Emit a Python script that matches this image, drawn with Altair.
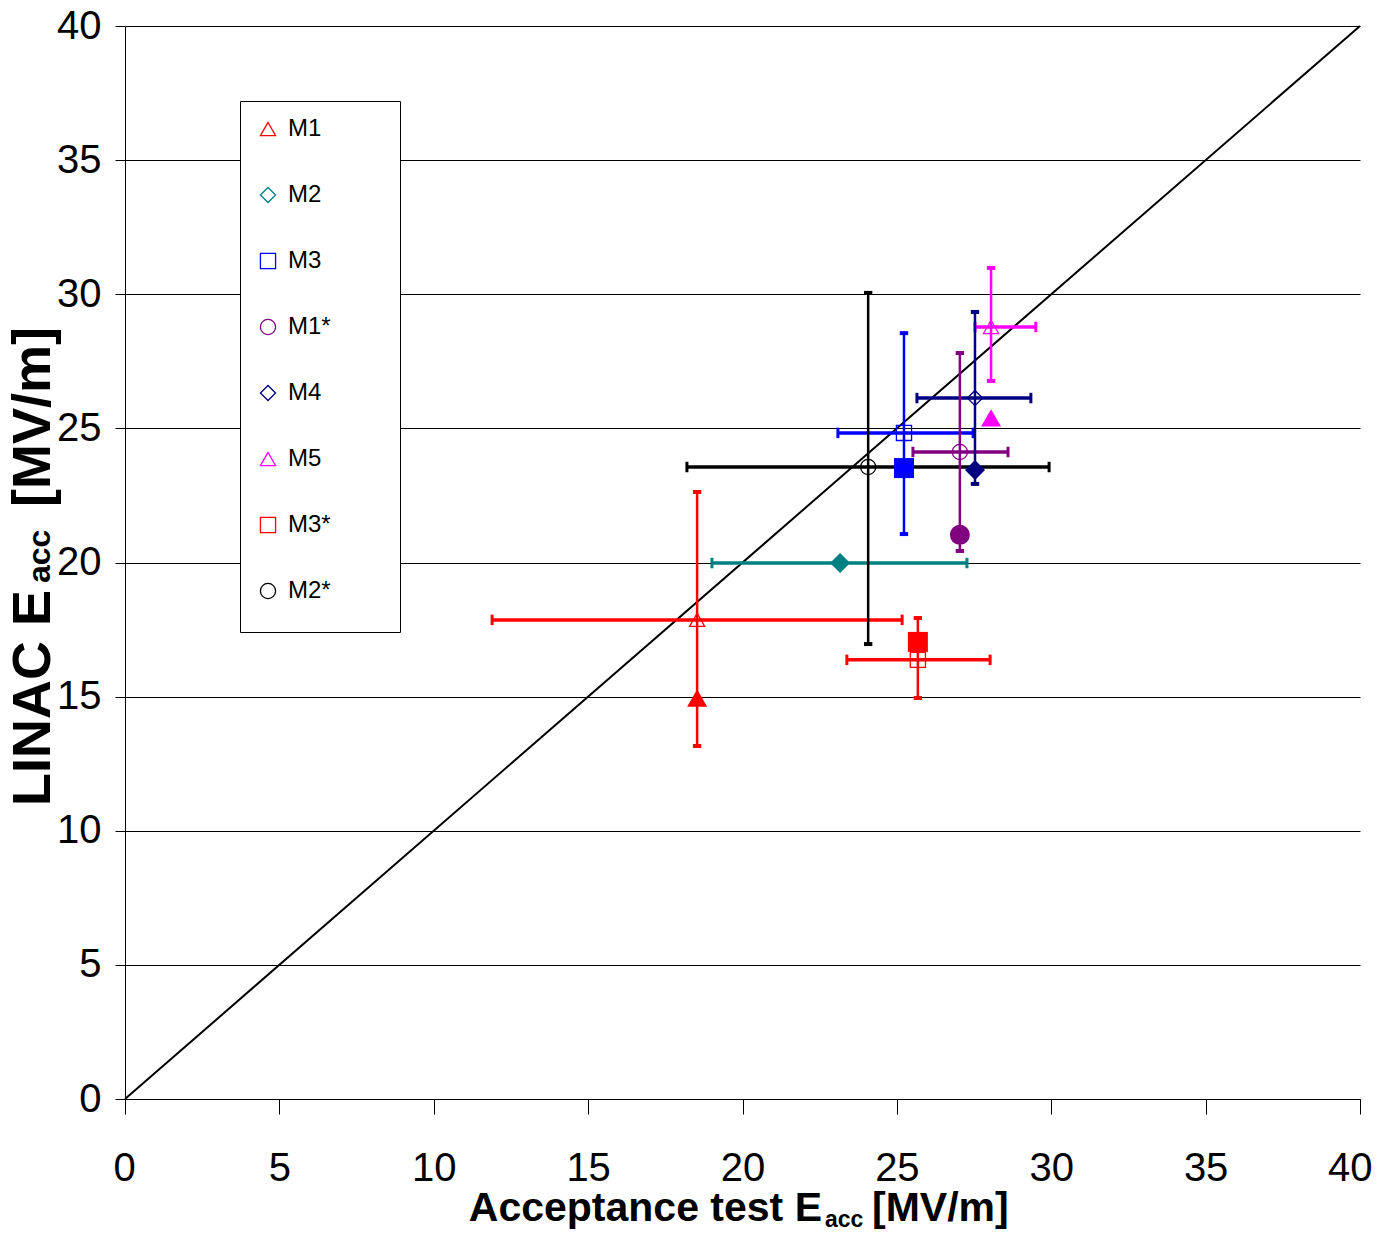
import altair as alt
import pandas as pd

# ---- data ----
series = ["M1", "M2", "M3", "M1*", "M4", "M5", "M3*", "M2*"]
colors = ["#FF0000", "#008080", "#0000FF", "#800080", "#000080", "#FF00FF", "#FF0000", "#000000"]
shapes = ["triangle-up", "diamond", "square", "circle", "diamond", "triangle-up", "square", "circle"]
accept_x = [18.53, 23.16, 25.23, 27.04, 27.53, 28.05, 25.68, 24.07]
linac_y = [17.86, 19.98, 24.83, 24.12, 26.13, 28.78, 16.37, 23.56]
x_low = [11.89, 19.01, 23.09, 25.52, 25.65, 27.53, 23.38, 18.20]
x_high = [25.17, 27.27, 27.47, 28.60, 29.34, 29.50, 28.02, 29.93]
y_low = [13.16, None, 21.06, 20.43, 22.93, 26.77, 14.95, 16.96]
y_high = [22.63, None, 28.55, 27.81, 29.34, 30.98, 17.93, 30.05]
filled_y = [14.95, 19.98, 23.52, 21.03, 23.45, 25.39, 17.04, None]
diag = [0, 40]
ticks = [0, 5, 10, 15, 20, 25, 30, 35, 40]
x_title = ["Acceptance test E", "acc", "[MV/m]"]
y_title = ["LINAC E", "acc", "[MV/m]"]

SANS = "Liberation Sans, Arial, DejaVu Sans, sans-serif"

df = pd.DataFrame({
    "series": series, "hex": colors, "shape": shapes,
    "x": accept_x, "y": linac_y, "xlo": x_low, "xhi": x_high,
    "ylo": y_low, "yhi": y_high, "fy": filled_y,
})
diag_df = pd.DataFrame({"a": diag, "b": diag})

xscale = alt.Scale(domain=[0, 40], nice=False, zero=False)
yscale = alt.Scale(domain=[0, 40], nice=False, zero=False)
xaxis = alt.Axis(values=ticks, title=None, grid=False, tickSize=15, labelPadding=34,
                 labelFont=SANS, labelFontSize=40, labelAngle=0,
                 labelFlush=True, labelFlushOffset=12)
yaxis = alt.Axis(values=ticks, title=None, grid=True, tickSize=10, labelPadding=14,
                 labelFont=SANS, labelFontSize=40)


def X(f):
    return alt.X(f"{f}:Q", scale=xscale, axis=xaxis)


def Y(f):
    return alt.Y(f"{f}:Q", scale=yscale, axis=yaxis)


hexcol = alt.Color("hex:N", scale=None)

diag_line = alt.Chart(diag_df).mark_line(color="black", strokeWidth=2).encode(
    x=X("a"), y=Y("b"))

base = alt.Chart(df)

hbar = base.mark_rule(strokeWidth=3.5).encode(x=X("xlo"), x2="xhi", y=Y("y"), color=hexcol)
hcap_lo = base.mark_point(shape="M0,-1L0,1", size=110, strokeWidth=3, filled=False, opacity=1).encode(
    x=X("xlo"), y=Y("y"), color=hexcol)
hcap_hi = base.mark_point(shape="M0,-1L0,1", size=110, strokeWidth=3, filled=False, opacity=1).encode(
    x=X("xhi"), y=Y("y"), color=hexcol)

vbase = base.transform_filter("isValid(datum.ylo)")
vbar = vbase.mark_rule(strokeWidth=2.5).encode(x=X("x"), y=Y("ylo"), y2="yhi", color=hexcol)
vcap_lo = vbase.mark_point(shape="M-1,0L1,0", size=70, strokeWidth=4, filled=False, opacity=1).encode(
    x=X("x"), y=Y("ylo"), color=hexcol)
vcap_hi = vbase.mark_point(shape="M-1,0L1,0", size=70, strokeWidth=4, filled=False, opacity=1).encode(
    x=X("x"), y=Y("yhi"), color=hexcol)

filled = base.transform_filter("isValid(datum.fy)").mark_point(
    filled=True, size=400, opacity=1).encode(
    x=X("x"), y=Y("fy"), color=hexcol, shape=alt.Shape("shape:N", scale=None))

pad = "\u2800" * 3
legend = alt.Legend(
    title=" ", titleOrient="bottom", titleFontSize=8, titlePadding=5,
    orient="none", legendX=115, legendY=75,
    fillColor="white", strokeColor="black", padding=16,
    symbolSize=230, symbolStrokeWidth=1.3,
    labelFont=SANS, labelFontSize=24, labelColor="black", labelOffset=8,
    rowPadding=42, labelExpr=f"datum.label + '{pad}'",
)
open_pts = base.mark_point(filled=False, size=230, strokeWidth=1.3, opacity=1).encode(
    x=X("x"), y=Y("y"),
    color=alt.Color("series:N", scale=alt.Scale(domain=series, range=colors), legend=legend),
    shape=alt.Shape("series:N", scale=alt.Scale(domain=series, range=shapes), legend=legend),
)


def txt(s, **kw):
    return alt.Chart(pd.DataFrame({"t": [s]})).mark_text(**kw).encode(text="t:N")


xt1 = txt(x_title[0], font=SANS, fontSize=41, fontWeight="bold", align="right",
          baseline="alphabetic", color="black").encode(x=alt.value(697), y=alt.value(1195))
xt2 = txt(x_title[1], font=SANS, fontSize=23, fontWeight="bold", align="left",
          baseline="alphabetic", color="black").encode(x=alt.value(700), y=alt.value(1201))
xt3 = txt(x_title[2], font=SANS, fontSize=41, fontWeight="bold", align="left",
          baseline="alphabetic", color="black").encode(x=alt.value(747), y=alt.value(1195))

yt1 = txt(y_title[0], font=SANS, fontSize=54, fontWeight="bold", align="right", angle=270,
          baseline="alphabetic", color="black").encode(x=alt.value(-75), y=alt.value(564))
yt2 = txt(y_title[1], font=SANS, fontSize=32, fontWeight="bold", align="left", angle=270,
          baseline="alphabetic", color="black").encode(x=alt.value(-75), y=alt.value(557))
yt3 = txt(y_title[2], font=SANS, fontSize=54, fontWeight="bold", align="left", angle=270,
          baseline="alphabetic", color="black").encode(x=alt.value(-75), y=alt.value(481))

chart = alt.layer(
    diag_line, hbar, hcap_lo, hcap_hi, vbar, vcap_lo, vcap_hi, open_pts, filled,
    xt1, xt2, xt3, yt1, yt2, yt3,
).properties(
    width=1235, height=1073, autosize="none",
    padding={"left": 117, "top": 18, "right": 15, "bottom": 132},
    background="white",
).configure_view(stroke=None).configure_axis(
    domainColor="black", tickColor="black", gridColor="black", labelColor="black",
    domainWidth=1, tickWidth=1, gridWidth=1, gridOpacity=1,
)

chart.save("out.html", embed_options={"renderer": "svg", "actions": False})
